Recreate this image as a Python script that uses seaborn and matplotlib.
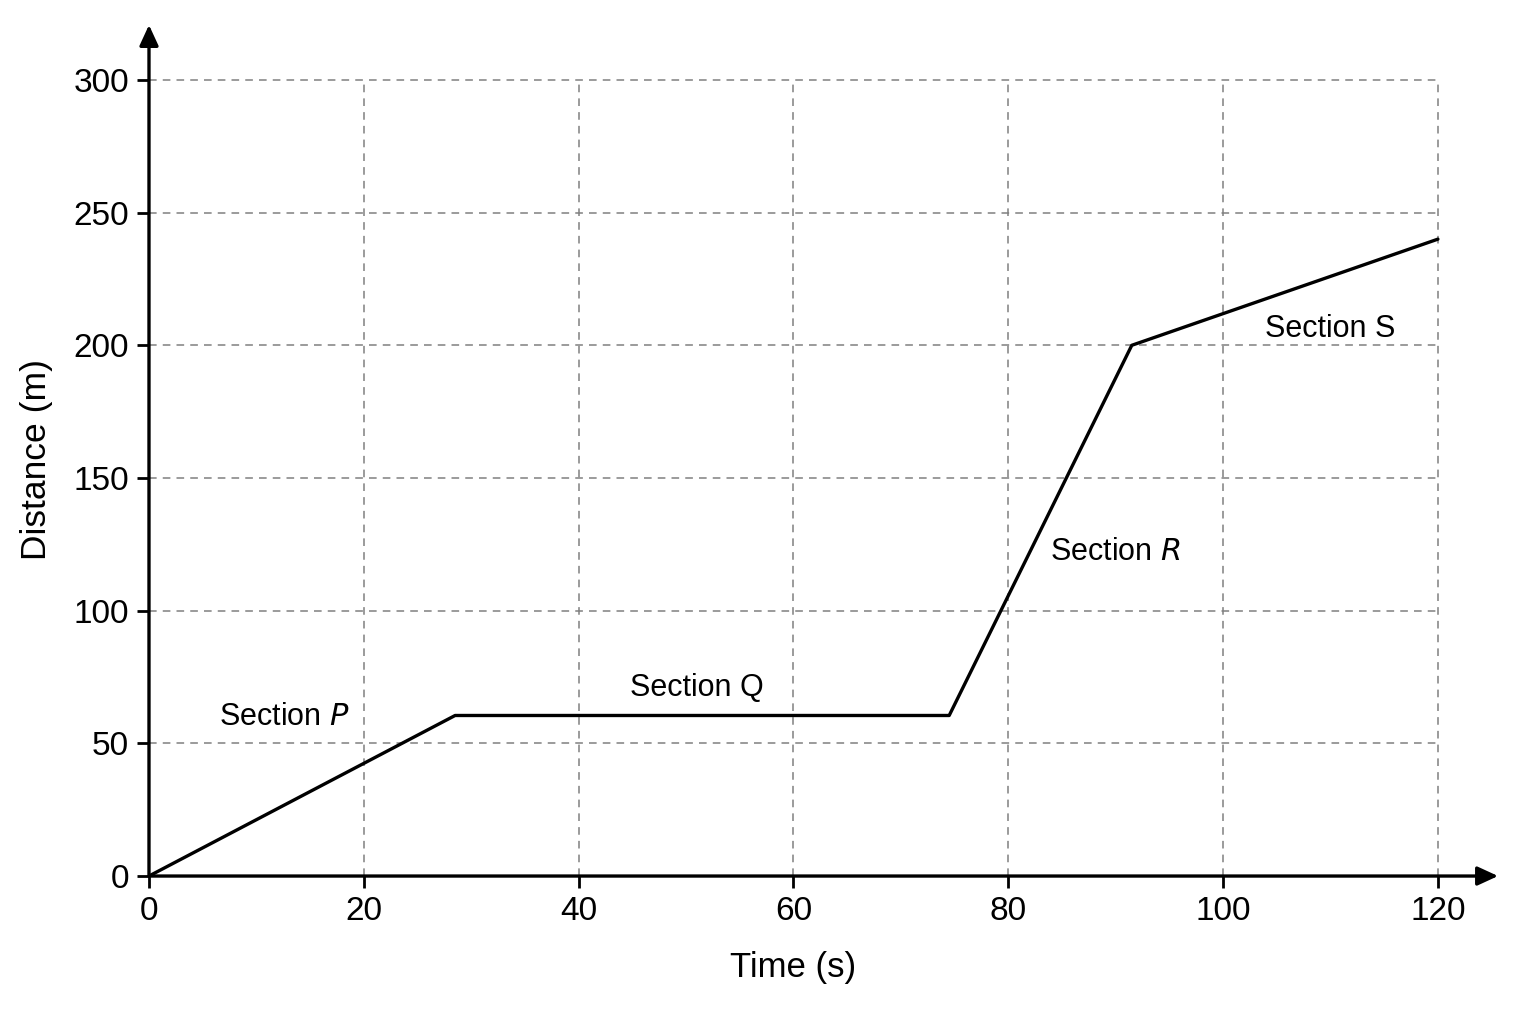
import matplotlib
matplotlib.use("Agg")
import matplotlib.pyplot as plt
from matplotlib import font_manager
import seaborn as sns

sns.set_theme(style="white")
plt.rcParams['font.family'] = ['Liberation Sans', 'DejaVu Sans']

# ------------------------------
# Data
# ------------------------------
time_s = [0, 28.5, 74.5, 91.5, 120]
distance_m = [0, 60.5, 60.5, 200, 240]

x_ticks = [0, 20, 40, 60, 80, 100, 120]
y_ticks = [0, 50, 100, 150, 200, 250, 300]

section_names = ["Section $\\it{P}$", "Section Q", "Section $\\it{R}$", "Section S"]
section_x = [12.6, 51, 90, 110]
section_y = [60, 71, 122, 206]

# narrow face if the system has one, otherwise plain Liberation Sans
installed = {f.name for f in font_manager.fontManager.ttflist}
if 'Liberation Sans Narrow' in installed:
    narrow = ['Liberation Sans Narrow', 'DejaVu Sans']
else:
    narrow = ['Liberation Sans', 'DejaVu Sans']

fig = plt.figure(figsize=(15.36, 10.24), dpi=100)
ax = fig.add_axes([0.0970, 0.1445, 0.8783, 0.8311])

# dashed grid, stopping at the last tick
ax.hlines(y_ticks[1:], 0, x_ticks[-1], colors="#808080", linewidth=1.1,
          linestyles=(0, (5, 4)), zorder=1)
ax.vlines(x_ticks[1:], 0, y_ticks[-1], colors="#808080", linewidth=1.1,
          linestyles=(0, (5, 4)), zorder=1)

sns.lineplot(x=time_s, y=distance_m, ax=ax, color="black", linewidth=2.4,
             zorder=3)

for name, sx, sy in zip(section_names, section_x, section_y):
    ax.text(sx, sy, name, ha="center", va="center", fontsize=22,
            family=narrow, color="black")

ax.set_xlim(0, 125.6)
ax.set_ylim(0, 320.7)
ax.set_xticks(x_ticks)
ax.set_yticks(y_ticks)
ax.set_xticklabels([str(t) for t in x_ticks], family=narrow, fontsize=24)
ax.set_yticklabels([str(t) for t in y_ticks], family=narrow, fontsize=24)
ax.tick_params(axis="both", direction="out", length=8.5, width=2,
               color="black", labelcolor="black", bottom=True, left=True)
ax.tick_params(axis="x", pad=6)
ax.tick_params(axis="y", pad=6)

ax.set_xlabel("Time (s)", fontsize=25, color="black")
ax.set_ylabel("Distance (m)", fontsize=25.5, color="black")
ax.xaxis.set_label_coords(60 / 125.6, -0.088)
ax.yaxis.set_label_coords(-0.071, 0.49)

for s in ax.spines.values():
    s.set_visible(False)

# axes with arrow heads
arrow = dict(arrowstyle="-|>,head_length=0.5,head_width=0.23", color="black",
             lw=2.4, mutation_scale=25, shrinkA=0, shrinkB=0)
ax.annotate("", xy=(1, 0), xytext=(0, 0), xycoords="axes fraction",
            arrowprops=arrow, annotation_clip=False)
ax.annotate("", xy=(0, 1), xytext=(0, 0), xycoords="axes fraction",
            arrowprops=arrow, annotation_clip=False)

fig.savefig("out.png", dpi=100, facecolor="white")
